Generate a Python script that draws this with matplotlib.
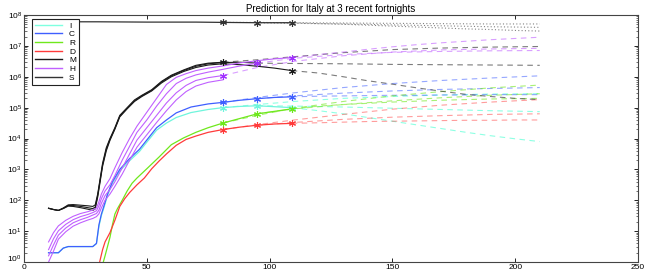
import matplotlib

matplotlib.use("Agg")

import matplotlib.pyplot as plt
import matplotlib.transforms as mtransforms
import numpy as np
from matplotlib.lines import Line2D

plt.rcParams["font.family"] = ["Liberation Sans", "DejaVu Sans"]

# fortnight ends (fit horizons)
FIT_END = [81, 95, 109]

# ---- fitted (solid) part, log10 values ----
T_C = [10, 14, 16, 18, 24, 28, 29.5, 30.5, 31.5, 32.5, 34, 36, 39, 43, 47, 50, 54, 58, 62, 68, 75, 81, 88, 95, 102, 109]
C_SOLID = [0.30, 0.30, 0.45, 0.5, 0.5, 0.5, 0.6, 1.2, 1.55, 1.8, 2.2, 2.6, 3.0, 3.35, 3.65, 3.95, 4.35, 4.6, 4.83, 5.02, 5.12, 5.17, 5.24, 5.29, 5.33, 5.35]
I_SOLID = [0.30, 0.30, 0.45, 0.5, 0.5, 0.5, 0.6, 1.15, 1.5, 1.75, 2.15, 2.55, 2.95, 3.28, 3.58, 3.88, 4.27, 4.5, 4.68, 4.84, 4.94, 5.0, 5.04, 5.06, 5.03, 5.0]

T_R = [32.3, 33, 34, 35, 36, 37, 38, 40, 42, 44, 46, 50, 55, 60, 65, 70, 75, 81, 88, 95, 102, 109]
R_SOLID = [0.0, 0.2, 0.5, 0.8, 1.2, 1.55, 1.72, 2.0, 2.3, 2.55, 2.72, 3.02, 3.4, 3.8, 4.02, 4.2, 4.35, 4.5, 4.65, 4.8, 4.88, 4.96]

T_D = [30.8, 32, 33, 35, 37, 39, 41, 43, 46, 49, 52, 55, 58, 62, 66, 70, 75, 81, 88, 95, 102, 109]
D_SOLID = [0.0, 0.4, 0.65, 0.95, 1.35, 1.8, 2.05, 2.25, 2.5, 2.72, 3.02, 3.27, 3.5, 3.78, 3.97, 4.08, 4.2, 4.29, 4.37, 4.43, 4.47, 4.49]

T_S = [10, 30, 50, 70, 81, 95, 109]
S_SOLID = [7.78, 7.78, 7.77, 7.77, 7.76, 7.75, 7.75]

T_M = [10, 12, 14, 16, 18, 20, 23, 26, 28, 29, 30, 31, 32, 33.5, 35, 37, 39, 42, 45, 48, 52, 56, 60, 65, 70, 75, 81, 88, 95, 102, 109]
M1_SOLID = [1.74, 1.70, 1.67, 1.75, 1.85, 1.86, 1.84, 1.82, 1.8, 1.85, 2.2, 2.7, 3.2, 3.7, 4.0, 4.35, 4.75, 5.0, 5.25, 5.4, 5.58, 5.85, 6.05, 6.22, 6.37, 6.44, 6.47]
M2_SOLID = [1.74, 1.70, 1.67, 1.74, 1.83, 1.83, 1.8, 1.76, 1.73, 1.78, 2.15, 2.65, 3.15, 3.65, 3.97, 4.32, 4.72, 4.98, 5.22, 5.38, 5.56, 5.83, 6.03, 6.2, 6.34, 6.42, 6.46, 6.47, 6.44]
M3_SOLID = [1.74, 1.70, 1.67, 1.73, 1.81, 1.8, 1.76, 1.71, 1.67, 1.72, 2.1, 2.6, 3.1, 3.6, 3.94, 4.3, 4.7, 4.96, 5.2, 5.36, 5.54, 5.8, 6.0, 6.17, 6.3, 6.38, 6.42, 6.39, 6.34, 6.28, 6.2]

T_H = [10, 12, 14, 17, 20, 23, 26, 28, 29.5, 30.5, 31.5, 33, 35, 37, 40, 43, 46, 50, 54, 58, 62, 66, 70, 75, 81, 88, 95, 102, 109]
H1_SOLID = [0.2, 0.55, 0.87, 1.1, 1.27, 1.37, 1.45, 1.52, 1.57, 1.68, 1.9, 2.15, 2.35, 2.6, 3.05, 3.5, 3.95, 4.35, 4.75, 5.15, 5.48, 5.72, 5.88, 5.97, 6.04]
H2_SOLID = [0.4, 0.75, 1.01, 1.22, 1.37, 1.47, 1.54, 1.6, 1.66, 1.82, 2.05, 2.3, 2.5, 2.8, 3.3, 3.75, 4.2, 4.6, 5.05, 5.45, 5.78, 5.95, 6.06, 6.15, 6.24, 6.35, 6.44]
H3_SOLID = [0.65, 0.95, 1.17, 1.35, 1.48, 1.57, 1.63, 1.68, 1.75, 1.95, 2.2, 2.45, 2.7, 3.05, 3.55, 4.0, 4.4, 4.85, 5.3, 5.75, 5.98, 6.1, 6.2, 6.28, 6.35, 6.45, 6.52, 6.58, 6.62]
H_DATA = [0.0, 0.35, 0.74, 0.98, 1.16, 1.27, 1.36, 1.41, 1.47, 1.56, 1.75, 2.0, 2.2, 2.45, 2.85, 3.3, 3.72, 4.12, 4.52, 4.9, 5.25, 5.52, 5.7, 5.82, 5.9]

# ---- predictions (dashed), log10 values ----
P1_T = [81, 95, 110, 130, 150, 170, 190, 210]
P2_T = [95, 110, 130, 150, 170, 190, 210]
P3_T = [109, 120, 130, 140, 150, 160, 170, 180, 190, 200, 210]

I_PRED = [
    [5.0, 5.1, 5.2, 5.3, 5.36, 5.41, 5.44, 5.45],
    [5.06, 5.05, 5.02, 4.98, 4.94, 4.9, 4.87],
    [5.0, 4.9, 4.8, 4.68, 4.56, 4.44, 4.32, 4.2, 4.09, 3.99, 3.9],
]
C_PRED = [
    [5.17, 5.33, 5.48, 5.65, 5.78, 5.88, 5.96, 6.03],
    [5.29, 5.38, 5.47, 5.54, 5.59, 5.62, 5.65],
    [5.35, 5.37, 5.38, 5.39, 5.4, 5.4, 5.41, 5.41, 5.42, 5.42, 5.42],
]
R_PRED = [
    [4.5, 4.75, 4.98, 5.2, 5.38, 5.52, 5.64, 5.73],
    [4.8, 4.96, 5.1, 5.22, 5.32, 5.4, 5.45],
    [4.96, 5.05, 5.1, 5.14, 5.18, 5.21, 5.24, 5.26, 5.28, 5.29, 5.3],
]
D_PRED = [
    [4.29, 4.45, 4.6, 4.78, 4.95, 5.08, 5.18, 5.26],
    [4.43, 4.52, 4.62, 4.69, 4.74, 4.78, 4.8],
    [4.49, 4.51, 4.53, 4.55, 4.56, 4.57, 4.58, 4.59, 4.59, 4.6, 4.6],
]
M_PRED = [
    [6.47, 6.55, 6.65, 6.78, 6.88, 6.93, 6.96, 6.98],
    [6.44, 6.43, 6.42, 6.4, 6.39, 6.38, 6.37],
    [6.2, 6.12, 6.0, 5.87, 5.76, 5.64, 5.53, 5.43, 5.36, 5.3, 5.26],
]
H_PRED = [
    [6.04, 6.3, 6.5, 6.68, 6.8, 6.87, 6.9, 6.92],
    [6.44, 6.6, 6.72, 6.79, 6.82, 6.84, 6.85],
    [6.62, 6.72, 6.8, 6.89, 6.97, 7.04, 7.1, 7.15, 7.2, 7.24, 7.28],
]
S_PRED = [
    [7.76, 7.76, 7.75, 7.74, 7.73, 7.72, 7.71, 7.71],
    [7.75, 7.73, 7.71, 7.68, 7.65, 7.62, 7.6],
    [7.75, 7.72, 7.7, 7.67, 7.64, 7.61, 7.58, 7.55, 7.53, 7.5, 7.48],
]

LABELS = ["I", "C", "R", "D", "M", "H", "S"]
COLORS = {"I": "#7fffe0", "C": "#3f5fff", "R": "#6fe81c", "D": "#ff3b3b",
          "M": "#1a1a1a", "H": "#c060ff", "S": "#333333"}

STAR = (6, 2, 0)
P_T = [P1_T, P2_T, P3_T]

fig = plt.figure(figsize=(6.54, 2.73), dpi=100)
ax = fig.add_axes([24 / 654, 11 / 273, 614 / 654, 247 / 273])


def solid(t, logv, color, lw=0.9):
    ax.plot(t, np.power(10.0, logv), color=color, lw=lw, zorder=3)


def star(t, logv, color):
    ax.plot([t], [10 ** logv], marker=STAR, ms=5, mew=0.8, color=color,
            ls="none", zorder=4)


def preds(pred, color, ls=(0, (5, 4)), alpha=0.6):
    for tt, vv in zip(P_T, pred):
        ax.plot(tt, np.power(10.0, vv), color=color, lw=0.8, ls=ls, alpha=alpha, zorder=2)


# predictions first (underneath)
preds(I_PRED, "#5fffd8", alpha=0.7)
preds(C_PRED, COLORS["C"], alpha=0.55)
preds(R_PRED, COLORS["R"], alpha=0.6)
preds(D_PRED, COLORS["D"], alpha=0.5)
preds(M_PRED, "#444444", alpha=0.7)
preds(H_PRED, COLORS["H"], alpha=0.6)
preds(S_PRED, "#666666", ls=(0, (1, 2)), alpha=0.8)

# fitted curves, with a star at the end of each fortnight fit
single = [(T_C, I_SOLID, "#6ff5dc"), (T_C, C_SOLID, COLORS["C"]),
          (T_R, R_SOLID, COLORS["R"]), (T_D, D_SOLID, COLORS["D"]),
          (T_S, S_SOLID, COLORS["S"])]
for t, v, c in single:
    solid(t, v, c)
    for end in FIT_END:
        star(end, v[t.index(end)], c)

for arr in (M1_SOLID, M2_SOLID, M3_SOLID):
    solid(T_M[:len(arr)], arr, COLORS["M"], lw=0.8)
    star(T_M[len(arr) - 1], arr[-1], COLORS["M"])

solid(T_H[:len(H_DATA)], H_DATA, COLORS["H"], lw=0.8)
for arr in (H1_SOLID, H2_SOLID, H3_SOLID):
    solid(T_H[:len(arr)], arr, COLORS["H"], lw=0.8)
    star(T_H[len(arr) - 1], arr[-1], "#a030ff")

ax.set_yscale("log")
ax.set_xlim(0, 250)
ax.set_ylim(1, 1e8)
ax.set_xticks([0, 50, 100, 150, 200, 250])
ax.set_yticks([10.0 ** k for k in range(9)])
ax.tick_params(which="both", direction="in", top=True, right=True, labelsize=6, pad=1.5)
ax.tick_params(which="major", length=3, width=0.6)
ax.tick_params(which="minor", length=1.8, width=0.4)
for sp in ax.spines.values():
    sp.set_linewidth(0.8)
    sp.set_color("#444444")
ax.set_title("Prediction for Italy at 3 recent fortnights", fontsize=7, pad=2)

# nudge the lowest y label up so it stays inside the image
lift = mtransforms.ScaledTranslation(0, 2.5 / 72, fig.dpi_scale_trans)
bottom_label = ax.yaxis.get_major_ticks()[0].label1
bottom_label.set_transform(bottom_label.get_transform() + lift)

handles = [Line2D([], [], color=COLORS[k], lw=1.0) for k in LABELS]
leg = ax.legend(handles, LABELS, loc="upper left", bbox_to_anchor=(0.013, 0.984),
                fontsize=6, labelspacing=0.1, handlelength=3.2, handletextpad=0.9,
                borderpad=0.35, borderaxespad=0, fancybox=False, framealpha=1)
leg.get_frame().set_edgecolor("#222222")
leg.get_frame().set_linewidth(0.8)

fig.savefig("out.png", dpi=100)
